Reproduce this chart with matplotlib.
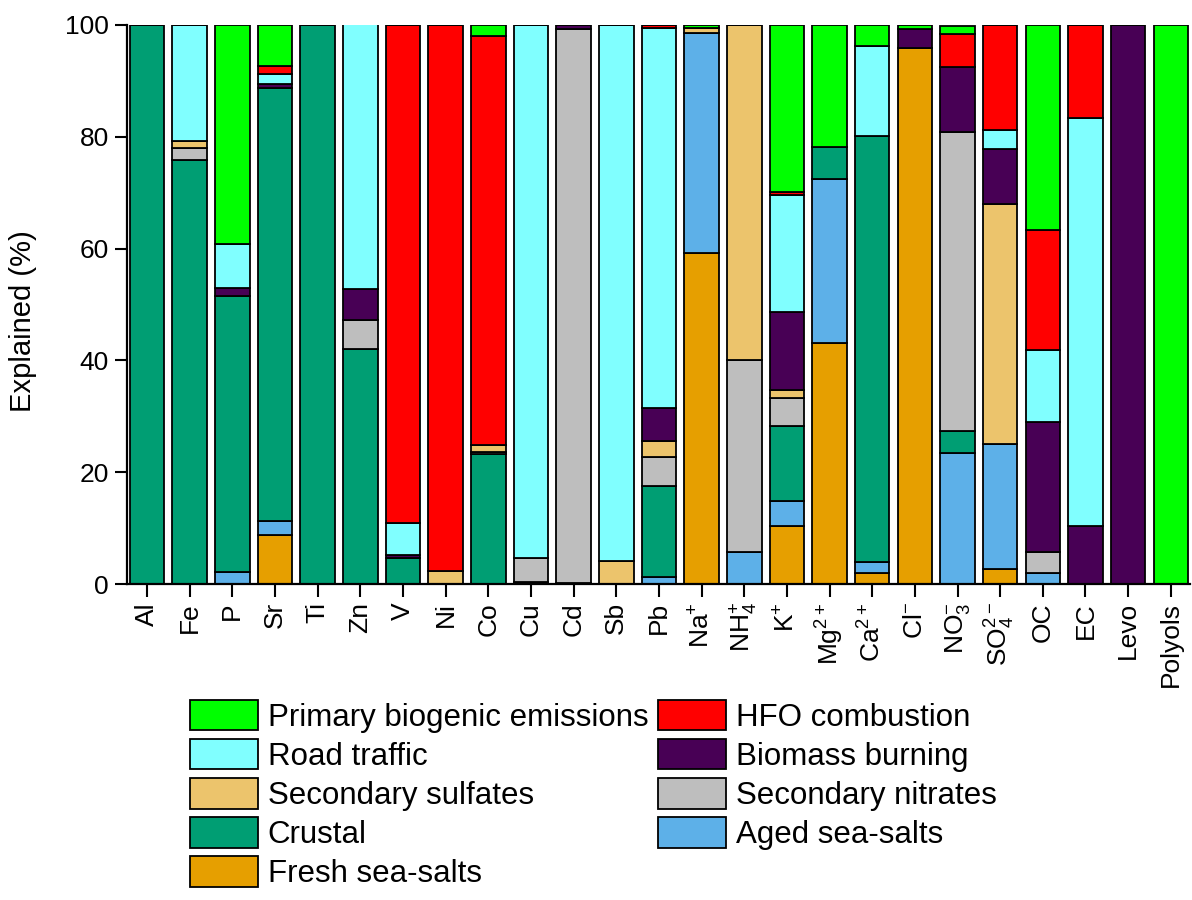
import matplotlib
matplotlib.use("Agg")
import numpy as np
import matplotlib.pyplot as plt

plt.rcParams["font.family"] = ["Liberation Sans", "DejaVu Sans"]
plt.rcParams["mathtext.default"] = "regular"

# Species (x categories)
species = ["Al", "Fe", "P", "Sr", "Ti", "Zn", "V", "Ni", "Co", "Cu", "Cd", "Sb", "Pb",
           "Na$^{+}$", "NH$_{4}^{+}$", "K$^{+}$", "Mg$^{2+}$", "Ca$^{2+}$", "Cl$^{-}$",
           "NO$_{3}^{-}$", "SO$_{4}^{2-}$", "OC", "EC", "Levo", "Polyols"]

# Explained (%) per source, stacked from bottom to top in this order
fresh_sea_salts = [0, 0, 0, 8.8, 0, 0, 0, 0, 0, 0, 0, 0, 0, 59.3, 0, 10.4, 43.2, 1.9, 95.9, 0, 2.6, 0, 0, 0, 0]
aged_sea_salts = [0, 0, 2.1, 2.4, 0, 0, 0, 0, 0, 0, 0, 0, 1.2, 39.2, 5.8, 4.4, 29.2, 2.0, 0, 23.5, 22.5, 1.9, 0, 0, 0]
crustal = [100, 75.8, 49.4, 77.5, 100, 42.1, 4.6, 0, 23.2, 0.3, 0.2, 0, 16.3, 0, 0, 13.4, 5.8, 76.3, 0, 3.9, 0, 0, 0, 0, 0]
sec_nitrates = [0, 2.2, 0, 0, 0, 5.1, 0, 0, 0.5, 4.4, 99.1, 0, 5.3, 0, 34.2, 5.0, 0, 0, 0, 53.5, 0, 3.9, 0, 0, 0]
sec_sulfates = [0, 1.2, 0, 0, 0, 0, 0, 2.4, 1.2, 0, 0, 4.1, 2.8, 1.0, 60.0, 1.5, 0, 0, 0, 0, 42.9, 0, 0, 0, 0]
biomass = [0, 0, 1.4, 0.7, 0, 5.5, 0.5, 0, 0, 0, 0.7, 0, 5.8, 0, 0, 13.9, 0, 0, 3.4, 11.5, 9.9, 23.2, 10.3, 100, 0]
road_traffic = [0, 20.8, 7.9, 1.9, 0, 47.4, 5.9, 0, 0, 95.3, 0, 95.9, 68.1, 0, 0, 21.0, 0, 16.0, 0, 0, 3.4, 12.9, 73.1, 0, 0]
hfo = [0, 0, 0, 1.3, 0, 0, 89.0, 97.6, 73.1, 0, 0, 0, 0.5, 0, 0, 0.5, 0, 0, 0, 6.0, 18.7, 21.5, 16.6, 0, 0]
biogenic = [0, 0, 39.2, 7.4, 0, 0, 0, 0, 2.0, 0, 0, 0, 0, 0.5, 0, 29.9, 21.8, 3.8, 0.7, 1.5, 0, 36.6, 0, 0, 100]

sources = [
    ("Fresh sea-salts", fresh_sea_salts, "#E69F00"),
    ("Aged sea-salts", aged_sea_salts, "#5DB0E8"),
    ("Crustal", crustal, "#009E73"),
    ("Secondary nitrates", sec_nitrates, "#BEBEBE"),
    ("Secondary sulfates", sec_sulfates, "#ECC46C"),
    ("Biomass burning", biomass, "#480055"),
    ("Road traffic", road_traffic, "#80FFFF"),
    ("HFO combustion", hfo, "#FF0000"),
    ("Primary biogenic emissions", biogenic, "#00FF00"),
]

fig = plt.figure(figsize=(11.92, 9), dpi=100)
ax = fig.add_axes([127 / 1192, 1 - 584 / 900, (1190 - 127) / 1192, (584 - 25) / 900])

x = np.arange(len(species))
bottom = np.zeros(len(species))
handles = {}
for name, vals, col in sources:
    vals = np.array(vals)
    bars = ax.bar(x, vals, 0.81, bottom=bottom, color=col, edgecolor="black", linewidth=1.3)
    handles[name] = bars
    bottom += vals

ax.set_xlim(-0.47, 24.45)
ax.set_ylim(0, 100)
ax.set_yticks([0, 20, 40, 60, 80, 100])
ax.set_xticks(x)
ax.set_xticklabels(species, rotation=90)
ax.tick_params(axis="both", direction="out", length=9, width=1.5, labelsize=19, pad=4)
ax.set_ylabel("Explained (%)", fontsize=21)
ax.yaxis.set_label_coords(-0.085, 0.47)

for s in ["top", "right"]:
    ax.spines[s].set_visible(False)
for s in ["left", "bottom"]:
    ax.spines[s].set_linewidth(1.6)

# Legend in two columns below the plot
legend_order = ["Primary biogenic emissions", "Road traffic", "Secondary sulfates", "Crustal",
                "Fresh sea-salts", "HFO combustion", "Biomass burning", "Secondary nitrates",
                "Aged sea-salts"]
fig.legend([handles[n] for n in legend_order], legend_order, loc="upper left",
           bbox_to_anchor=(190 / 1192, 1 - 700 / 900), ncol=2, frameon=False,
           fontsize=22.5, handlelength=2.17, handleheight=1.12, handletextpad=0.32,
           labelspacing=0.2, columnspacing=0.32, borderpad=0, borderaxespad=0)

fig.savefig("out.png", dpi=100)
